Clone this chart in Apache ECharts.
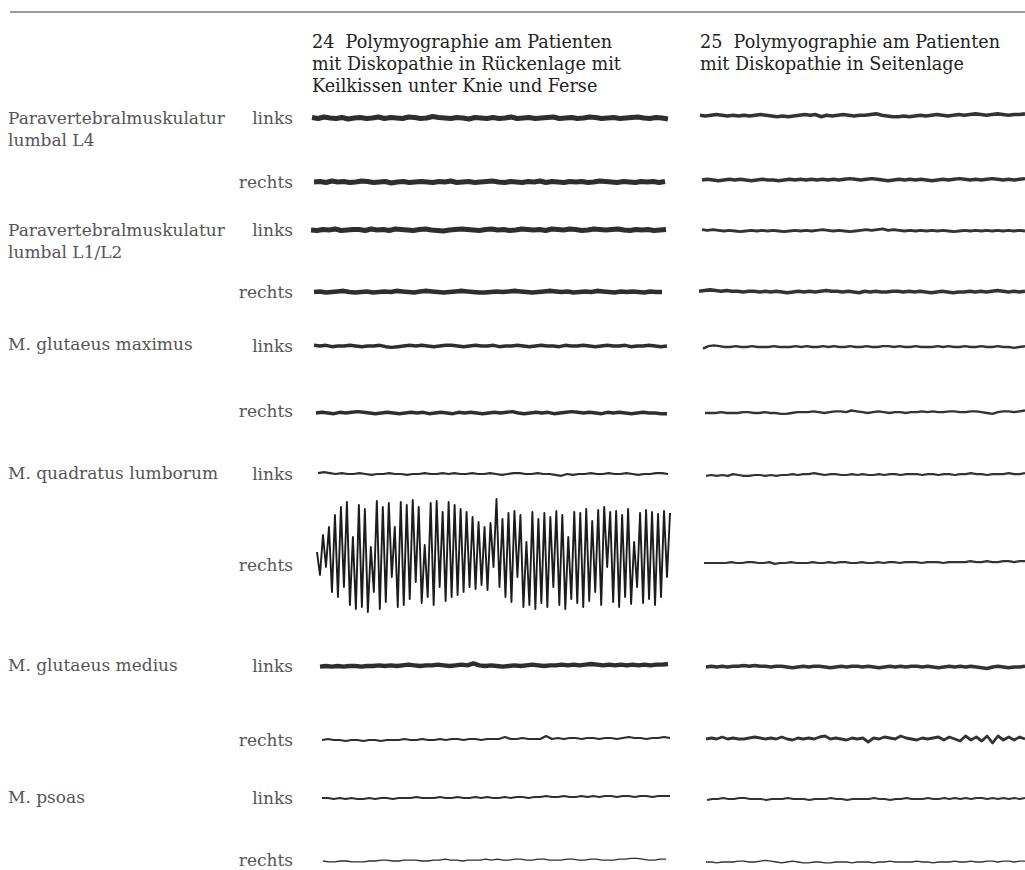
<!DOCTYPE html>
<html><head><meta charset="utf-8">
<script src="https://cdn.jsdelivr.net/npm/echarts@6/dist/echarts.min.js"></script>
<style>html,body{margin:0;padding:0;background:#fff}#c{width:1025px;height:870px}</style>
</head><body><div id="c"></div>
<script>
// ---- text ----
const title24 = ['24  Polymyographie am Patienten', 'mit Diskopathie in Rückenlage mit', 'Keilkissen unter Knie und Ferse'];
const title25 = ['25  Polymyographie am Patienten', 'mit Diskopathie in Seitenlage'];
const muscles = [['Paravertebralmuskulatur', 'lumbal L4'], ['Paravertebralmuskulatur', 'lumbal L1/L2'], ['M. glutaeus maximus'], ['M. quadratus lumborum'], ['M. glutaeus medius'], ['M. psoas']];
const sides = ['links', 'rechts'];

// ---- traces, figure 24 (supine) ----
const t24_1 = [1,-1,2,0,-1,1,-2,0,1,-1,0,2,-1,1,0,-1,2,1,-1,0,3,1,0,-1,1,0,-2,1,0,-1,1,-1,0,2,-1,0,1,-1,0,1,2,-1,0,1,-1,0,2,1,-1,0,1,-1,0,1,2,0,-1,1,0,-2];
const t24_2 = [0,1,-1,2,0,1,-1,0,2,1,-1,0,1,-2,0,1,-1,0,1,0,-1,1,0,2,-1,0,1,-1,0,1,2,0,-1,1,0,-1,1,0,2,-1,1,0,-1,1,0,1,-1,0,2,1,0,-1,1,0,-1,1,0,1,-1,1];
const t24_3 = [0,-1,1,0,2,-1,0,1,1,-1,2,0,1,-1,2,1,0,-1,1,2,0,-1,-2,0,1,2,1,0,-1,1,2,0,1,-1,0,2,1,0,1,-1,2,1,0,2,1,-1,0,2,1,0,1,2,0,-1,1,0,1,-1,0,1];
const t24_4 = [0,1,-1,0,1,2,0,-1,0,1,-1,0,1,0,2,1,0,-1,1,2,1,0,-1,0,1,2,1,0,-1,-1,0,1,0,1,2,1,0,-1,0,1,2,1,0,1,-1,0,1,0,2,1,0,-1,1,0,1,0,-1,1,0,0];
const t24_5 = [1,0,1,-1,0,0,1,0,-1,0,0,1,-1,-2,-1,0,1,0,1,0,-1,0,1,1,0,-1,0,1,0,0,1,-1,0,0,1,0,-1,0,1,0,0,-1,1,0,0,1,0,-1,0,1,0,0,1,-1,0,0,1,0,-1,0];
const t24_6 = [0,1,0,-1,1,0,1,2,1,0,-1,0,1,0,-1,0,1,0,1,-1,0,1,0,-1,1,0,1,0,-1,0,1,0,1,2,0,-1,0,1,0,1,-1,0,1,2,1,0,1,0,-1,1,0,1,0,-1,0,1,0,0,-1,-1];
const t24_7 = [1,2,1,0,1,0,0,1,0,-1,0,0,1,0,0,-1,0,0,1,0,0,1,0,1,0,0,1,0,0,1,0,-1,0,1,1,0,0,1,0,0,-1,-2,0,-1,0,0,1,0,0,1,0,0,1,0,-1,0,0,1,1,0];
const t24_8 = [5,-18,22,-10,30,-35,42,-40,50,-30,55,-48,20,-52,52,-50,48,-55,10,-35,56,-52,50,-45,54,-20,30,-50,55,-48,52,-42,57,-25,50,-46,12,-40,54,-48,56,-30,45,-44,55,-40,52,-38,48,-35,45,-30,40,-32,35,-28,30,-33,34,-10,58,-30,38,-40,44,-45,46,-20,42,-50,15,-48,45,-52,38,-46,44,-50,40,-30,46,-48,42,-52,20,-42,45,-46,44,-50,48,-44,36,-35,47,-48,50,-10,45,-45,46,-50,42,-40,48,-47,15,-30,44,-46,47,-42,45,-48,43,-40,46,-20,44];
const t24_9 = [-1,0,-1,0,-1,0,0,-1,0,0,1,0,1,0,1,2,1,0,1,1,2,1,0,1,2,1,4,1,0,1,0,-1,0,1,0,1,2,1,0,1,1,2,1,2,1,2,3,2,1,2,1,2,1,2,1,2,1,2,2,3];
const t24_10 = [0,1,0,0,-1,0,0,-1,0,0,-1,0,0,0,1,0,0,1,0,0,1,0,1,1,0,1,1,0,1,1,1,3,1,1,2,1,1,1,4,1,2,1,2,2,1,2,2,1,2,2,1,2,3,2,2,1,2,2,3,2];
const t24_11 = [0,0,-1,0,-1,0,-1,-1,0,-1,0,0,-1,0,0,0,1,0,0,0,1,0,0,1,0,0,1,0,1,0,0,1,0,1,1,0,1,1,2,1,1,2,1,1,2,1,2,1,2,2,1,2,2,1,2,2,1,2,2,2];
const t24_12 = [0,-1,-1,0,0,-1,-1,-1,0,0,1,1,0,0,1,1,1,0,0,1,1,2,1,1,0,1,1,1,2,1,2,1,1,2,2,1,1,2,2,1,1,1,2,2,1,1,2,2,1,1,1,2,2,3,3,2,1,1,2,2];

// ---- traces, figure 25 (side lying) ----
const t25_1 = [1,0,1,2,1,0,1,0,1,0,1,2,1,0,-1,0,-1,0,1,2,1,2,-1,1,0,1,2,1,0,1,1,2,3,1,0,-1,-1,0,-1,0,1,0,1,2,1,0,1,2,1,2,3,2,1,2,3,2,1,2,2,3];
const t25_2 = [0,1,0,-1,0,1,0,1,0,-1,0,1,0,0,-1,0,1,0,1,0,1,0,1,0,1,0,1,2,1,0,1,2,1,0,-1,0,1,0,1,0,1,0,-1,0,1,0,1,2,1,0,1,0,1,2,1,0,1,0,1,2];
const t25_3 = [2,1,2,1,0,1,0,-1,0,1,0,1,0,1,0,-1,0,1,0,1,0,1,2,1,0,1,0,-1,0,1,2,1,2,3,1,2,1,0,1,0,1,0,1,0,1,0,-1,0,1,0,1,0,1,0,1,0,1,0,1,0];
const t25_4 = [1,2,3,2,1,2,1,1,0,1,1,0,1,0,1,0,-1,0,1,0,1,0,1,2,1,1,0,1,0,-1,1,0,1,0,0,1,1,0,1,0,1,0,-1,0,1,0,-1,0,0,1,0,1,0,1,2,1,0,1,0,1];
const t25_5 = [-2,1,2,1,0,0,1,0,0,1,0,0,0,1,0,0,0,1,0,1,0,0,1,0,1,0,0,1,0,0,1,0,0,1,1,0,1,0,0,1,0,0,0,1,0,1,0,0,1,0,0,1,0,0,1,0,0,-1,0,1];
const t25_6 = [0,0,0,1,0,0,0,1,1,0,0,1,0,0,-1,-1,0,1,1,1,2,1,0,1,2,2,1,3,2,1,0,1,2,1,0,1,1,0,1,1,2,1,2,1,1,2,2,1,1,2,2,1,0,-1,1,2,2,1,2,3];
const t25_7 = [-1,0,-1,0,-1,1,0,-1,-1,0,0,-1,0,-1,0,0,1,0,1,1,2,1,0,1,1,0,0,1,0,1,0,0,1,0,1,1,0,1,1,1,0,1,1,0,1,1,0,1,1,2,1,1,0,1,1,1,2,1,1,2];
const t25_8 = [0,0,0,0,0,1,0,0,1,1,0,0,1,-1,0,0,1,0,0,0,1,0,0,1,0,1,1,0,0,1,0,0,1,0,1,1,0,1,1,1,0,1,1,1,0,1,1,1,1,2,1,1,2,1,1,2,2,1,2,2];
const t25_9 = [0,1,0,1,0,1,1,2,1,2,1,1,0,1,1,0,-1,0,1,0,1,1,0,-1,0,1,0,1,1,0,1,0,-1,0,1,0,1,0,1,1,0,1,0,-1,0,1,0,1,0,1,0,-1,-2,0,1,0,-1,0,0,1];
const t25_10 = [0,1,0,2,0,1,0,0,1,2,1,0,1,0,2,0,-1,1,0,1,0,2,3,0,1,0,-1,1,0,1,-3,1,0,2,1,0,3,1,0,-1,1,0,1,2,-1,2,0,-2,3,-1,2,-2,3,-4,3,-1,2,-1,2,0];
const t25_11 = [-1,0,0,1,0,0,1,1,0,0,0,-1,0,0,0,1,0,0,0,-1,0,0,0,1,0,0,-1,0,0,0,0,1,0,0,-1,0,0,1,0,0,0,1,0,0,1,0,1,0,1,0,1,1,0,1,0,1,0,1,0,1];
const t25_12 = [0,0,-1,0,0,0,1,1,0,0,1,2,1,0,-1,0,1,0,-1,-1,0,0,-1,-1,0,0,0,-1,0,0,0,-1,0,0,1,0,0,0,0,1,0,0,-1,0,0,0,1,0,0,1,0,0,1,1,0,1,1,0,1,1];

const fig24 = [t24_1,t24_2,t24_3,t24_4,t24_5,t24_6,t24_7,t24_8,t24_9,t24_10,t24_11,t24_12];
const fig25 = [t25_1,t25_2,t25_3,t25_4,t25_5,t25_6,t25_7,t25_8,t25_9,t25_10,t25_11,t25_12];

// ---- layout (pixels / styles) ----
const rowY24 = [118,182,230,292,346,413,474,557,666,740,798,862];
const rowY25 = [116,180,231,292,347,413,475,563,667,739,799,864];
const x0_24 = [312,314,311,314,314,316,318,317,320,322,322,323];
const x1_24 = [668,665,666,662,667,667,668,670,668,670,670,666];
const x0_25 = [700,702,702,699,703,705,706,704,706,706,707,706];
const lw24 = [5.2,5.2,5.2,4.6,3.4,3.4,2.2,1.9,4.4,2.2,1.8,1.3];
const lw25 = [3.6,3.4,2.8,3.6,2.4,2.4,2.2,2.2,3.6,2.8,1.8,1.3];
const yr24 = [20,20,20,18,14,14,11,70,15,10,10,10];
const yr25 = [14,14,14,14,12,12,11,11,14,10,10,10];
const labelRowY = [118,230,344,473,665,797];
const sideY = [[118,182],[230,292],[346,411],[474,565],[666,740],[798,860]];

const grids = [], xAxes = [], yAxes = [], series = [];
function addTrace(data, left, width, cy, lw, range, big, color) {
  const h = big ? 140 : 20;
  const gi = grids.length;
  grids.push({left: left, top: cy - h / 2, width: width, height: h, containLabel: false});
  xAxes.push({type: 'category', gridIndex: gi, show: false, boundaryGap: false, data: data.map((_, i) => i)});
  yAxes.push({type: 'value', gridIndex: gi, show: false, min: -range, max: range});
  series.push({type: 'line', xAxisIndex: gi, yAxisIndex: gi, data: data, showSymbol: false, symbol: 'none',
    lineStyle: {color: color, width: lw, join: 'round'}, silent: true, clip: false});
}
fig24.forEach((d, i) => addTrace(d, x0_24[i], x1_24[i] - x0_24[i], rowY24[i], lw24[i], yr24[i], i === 7, i === 7 ? '#1c1c1c' : '#2e2e2e'));
fig25.forEach((d, i) => addTrace(d, x0_25[i], 1045 - x0_25[i], rowY25[i], lw25[i], yr25[i], false, '#333'));

const labelFont = '17px "DejaVu Serif"';
const titleFont = '17.6px "DejaVu Serif"';
const graphics = [
  {type: 'line', shape: {x1: 10, y1: 12, x2: 1025, y2: 12}, style: {stroke: '#7a7a7a', lineWidth: 1.6}},
  {type: 'text', x: 312, y: 31, style: {text: title24.join('\n'), font: titleFont, fill: '#222', lineHeight: 22, align: 'left', verticalAlign: 'top'}},
  {type: 'text', x: 700, y: 31, style: {text: title25.join('\n'), font: titleFont, fill: '#222', lineHeight: 22, align: 'left', verticalAlign: 'top'}}
];
muscles.forEach((m, i) => {
  graphics.push({type: 'text', x: 8, y: labelRowY[i] - 11, style: {text: m.join('\n'), font: labelFont, fill: '#555', lineHeight: 22, align: 'left', verticalAlign: 'top'}});
  sides.forEach((s, j) => {
    graphics.push({type: 'text', x: 293, y: sideY[i][j], style: {text: s, font: labelFont, fill: '#555', align: 'right', verticalAlign: 'middle'}});
  });
});

const chart = echarts.init(document.getElementById('c'), null, {renderer: 'svg'});
chart.setOption({
  animation: false,
  backgroundColor: '#fff',
  grid: grids, xAxis: xAxes, yAxis: yAxes, series: series,
  graphic: graphics
});
</script>
</body></html>
